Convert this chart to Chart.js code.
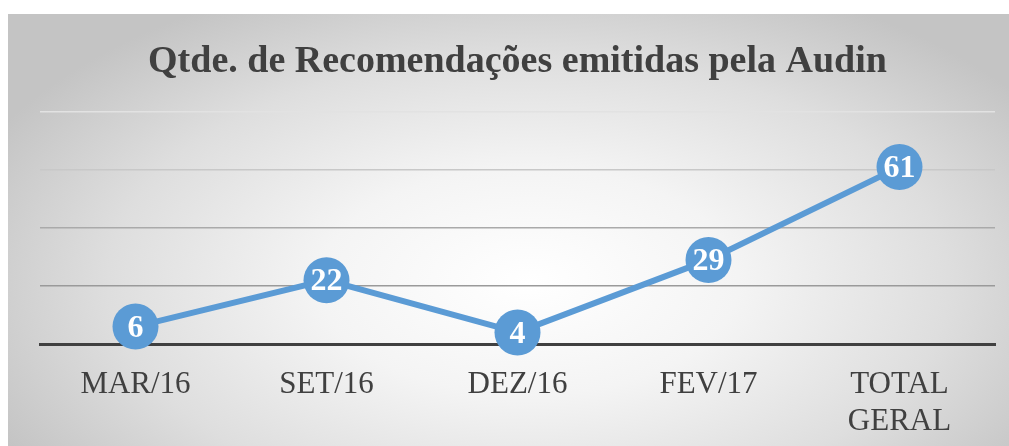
<!DOCTYPE html>
<html>
  <head>
    <title>Chart</title>
    <meta charset="UTF-8" />
    <script src="https://cdn.jsdelivr.net/npm/chart.js@4.4.0/dist/chart.umd.min.js"></script>
    <style>
      body { margin: 0; background: #fff; }
      #box {
        position: absolute; left: 8px; top: 14px; width: 1001px; height: 432px;
        background: radial-gradient(ellipse 60% 75% at 52% 62%, #ffffff 0%, #f4f4f4 35%, #dedede 70%, #c4c4c4 100%);
      }
    </style>
  </head>
  <body>
    <div id="box"><canvas id="myChart" width="1001" height="432"></canvas></div>
    <script>
      var categories = ["MAR/16", "SET/16", "DEZ/16", "FEV/17", ["TOTAL", "GERAL"]];
      var values = [6, 22, 4, 29, 61];
      var title = "Qtde. de Recomendações emitidas pela Audin";
      var blue = "#5B9BD5";

      // draws the value inside each marker
      var valueLabels = {
        id: "valueLabels",
        afterDatasetsDraw: function(chart) {
          var ctx = chart.ctx;
          var meta = chart.getDatasetMeta(0);
          ctx.save();
          ctx.fillStyle = "#ffffff";
          ctx.font = "bold 32px 'Liberation Serif'";
          ctx.textAlign = "center";
          ctx.textBaseline = "middle";
          meta.data.forEach(function(pt, i) {
            ctx.fillText(values[i], pt.x, pt.y + 2);
          });
          ctx.restore();
        }
      };

      var gridColors = { 0: "#9a9a9a", 20: "#9a9a9a", 40: "#aaaaaa", 60: "#c8c8c8", 80: "#e2e2e2" };

      var ctx = document.getElementById("myChart").getContext("2d");
      var chart = new Chart(ctx, {
        type: "line",
        data: {
          labels: categories,
          datasets: [
            {
              data: values,
              borderColor: blue,
              backgroundColor: blue,
              borderWidth: 6,
              pointRadius: 23,
              pointHoverRadius: 23,
              pointBorderWidth: 0,
              clip: false
            }
          ]
        },
        options: {
          responsive: false,
          animation: false,
          layout: { autoPadding: false, padding: { left: 32, right: 14, bottom: 0 } },
          plugins: {
            legend: { display: false },
            tooltip: { enabled: false },
            title: {
              display: true,
              text: title,
              color: "#404040",
              font: { family: "'Liberation Serif'", size: 38, weight: "bold", lineHeight: 1.2 },
              padding: { top: 25, bottom: 27.4 }
            }
          },
          scales: {
            x: {
              offset: true,
              grid: { display: false, drawTicks: false },
              border: { display: true, color: "#404040", width: 3 },
              afterFit: function(s) {
                s.height = 102;
              },
              ticks: {
                color: "#404040",
                padding: 22,
                maxRotation: 0,
                font: { family: "'Liberation Serif'", size: 31, lineHeight: 1.2 }
              }
            },
            y: {
              min: 0,
              max: 80,
              grid: {
                drawTicks: false,
                color: function(c) { return gridColors[c.tick.value] || "#aaaaaa"; },
                lineWidth: 1.5
              },
              border: { display: false },
              ticks: { display: false, stepSize: 20 }
            }
          }
        },
        plugins: [valueLabels]
      });
    </script>
  </body>
</html>
